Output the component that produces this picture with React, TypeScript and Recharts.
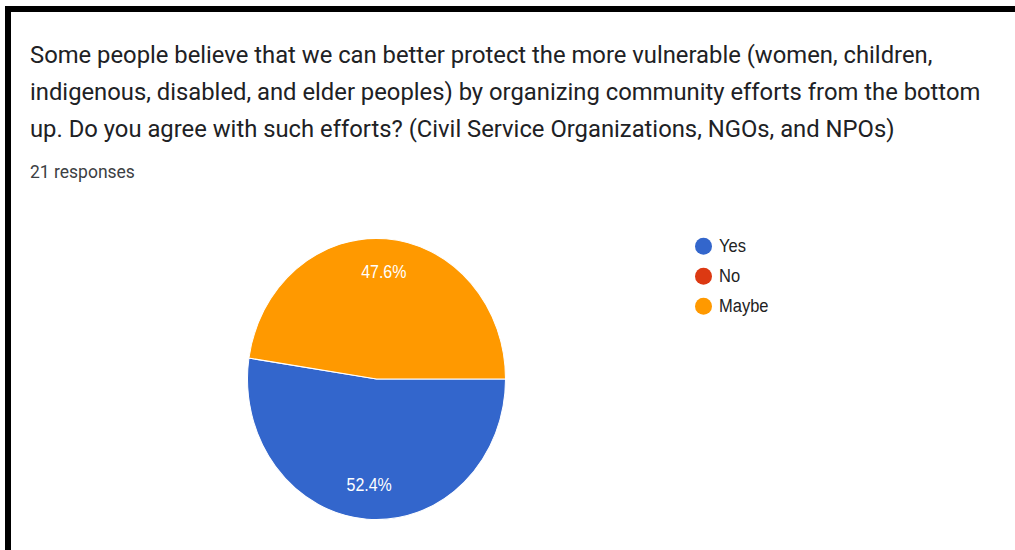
import React from "react";
import { PieChart, Pie, Cell, Legend } from "recharts";

const categories = ["Yes", "No", "Maybe"];
const responses = [11, 0, 10];
const colors = ["#3366CC", "#DC3912", "#FF9900"];
const titleLines = [
  "Some people believe that we can better protect the more vulnerable (women, children,",
  "indigenous, disabled, and elder peoples) by organizing community efforts from the bottom",
  "up. Do you agree with such efforts? (Civil Service Organizations, NGOs, and NPOs)",
];
const responseCountLabel = "21 responses";

const data = categories.map((name, i) => ({ name, value: responses[i] }));
const total = responses.reduce((a, b) => a + b, 0);

const SY = 1.09;
const CX = 376.5;
const CY = 379;
const R = 129;
const RADIAN = Math.PI / 180;

const renderLabel = (props: any) => {
  const { midAngle, value } = props;
  if (!value) return null;
  const r = 98;
  const x = CX + r * Math.cos(-midAngle * RADIAN);
  const y = CY + r * Math.sin(-midAngle * RADIAN);
  return (
    <text
      x={x}
      y={y}
      fill="#ffffff"
      textAnchor="middle"
      dominantBaseline="central"
      fontFamily="'Liberation Sans', Arial, sans-serif"
      fontSize={16}
    >
      {((value / total) * 100).toFixed(1) + "%"}
    </text>
  );
};

const renderLegend = (props: any) => {
  const payload = [...(props.payload || [])].sort(
    (a: any, b: any) => categories.indexOf(a.value) - categories.indexOf(b.value)
  );
  return (
    <div style={{ transform: `scaleY(${1 / SY})`, transformOrigin: "0 0" }}>
      {payload.map((entry: any, i: number) => (
        <div
          key={i}
          style={{ display: "flex", alignItems: "center", height: 30 }}
        >
          <span
            style={{
              display: "inline-block",
              width: 17,
              height: 17,
              borderRadius: "50%",
              background: entry.color,
              marginRight: 7,
            }}
          />
          <span
            style={{
              fontFamily: "'Liberation Sans', Arial, sans-serif",
              fontSize: 16.5,
              color: "#222222",
              transform: "scaleY(1.07)",
              display: "inline-block",
            }}
          >
            {entry.value}
          </span>
        </div>
      ))}
    </div>
  );
};

export default function App() {
  return (
    <div
      style={{
        position: "fixed",
        left: 0,
        top: 0,
        width: 1015,
        height: 550,
        background: "#ffffff",
        overflow: "hidden",
      }}
    >
      <div style={{ position: "absolute", left: 5, top: 6, width: 1010, height: 6, background: "#000" }} />
      <div style={{ position: "absolute", left: 5, top: 6, width: 6, height: 544, background: "#000" }} />
      {titleLines.map((t, i) => (
        <div
          key={i}
          style={{
            position: "absolute",
            left: 30,
            top: 40 + i * 37,
            fontFamily: "Roboto, 'Noto Sans', sans-serif",
            fontSize: 23.8,
            lineHeight: "30px",
            color: "#202124",
            whiteSpace: "nowrap",
          }}
        >
          {t}
        </div>
      ))}
      <div
        style={{
          position: "absolute",
          left: 30,
          top: 161,
          fontFamily: "Roboto, 'Noto Sans', sans-serif",
          fontSize: 17.5,
          lineHeight: "22px",
          color: "#3c4043",
          whiteSpace: "nowrap",
        }}
      >
        {responseCountLabel}
      </div>
      <div
        style={{
          position: "absolute",
          left: 0,
          top: 0,
          width: 1015,
          height: 550,
          transform: `scaleY(${SY})`,
          transformOrigin: `0 ${CY}px`,
        }}
      >
        <PieChart width={1015} height={550} margin={{ top: 0, right: 0, bottom: 0, left: 0 }}>
          <Pie
            data={data}
            dataKey="value"
            nameKey="name"
            cx={CX}
            cy={CY}
            outerRadius={R}
            startAngle={0}
            endAngle={-360}
            stroke="#ffffff"
            strokeWidth={1}
            label={renderLabel}
            labelLine={false}
            isAnimationActive={false}
          >
            {data.map((d, i) => (
              <Cell key={d.name} fill={colors[i]} />
            ))}
          </Pie>
          <Legend
            layout="vertical"
            align="right"
            verticalAlign="top"
            content={renderLegend}
            wrapperStyle={{ left: 695, top: 379 + (231 - 379) / SY, width: 150 }}
          />
        </PieChart>
      </div>
    </div>
  );
}
